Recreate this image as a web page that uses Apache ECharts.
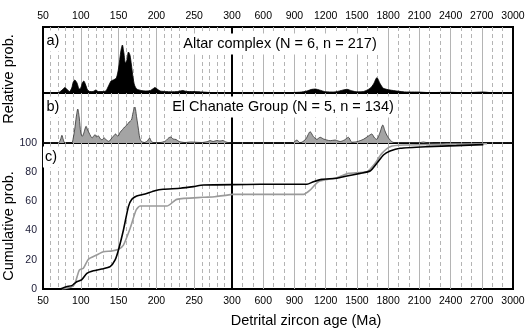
<!DOCTYPE html>
<html>
<head>
<meta charset="utf-8">
<script src="https://cdn.jsdelivr.net/npm/echarts@6/dist/echarts.min.js"></script>
<style>
  html, body { margin: 0; padding: 0; background: #fff; }
  #main { width: 529px; height: 333px; }
</style>
</head>
<body>
<div id="main"></div>
<script>
// relative probability curves (arbitrary units)
var altarAge = [50, 68, 72, 76, 79, 82, 85, 88, 90, 92, 95, 98, 100, 102, 104, 106, 109, 112, 116, 120, 123, 128, 133, 136, 140, 143, 147, 150, 153, 155, 157, 159, 161, 163, 165, 167, 169, 171, 174, 180, 186, 192, 196, 198, 201, 205, 212, 220, 228, 235, 240, 248, 255, 262, 270, 280, 300,
    600, 800, 950, 1020, 1060, 1100, 1140, 1200, 1280, 1350, 1404, 1450, 1500, 1563, 1627, 1660, 1692, 1725, 1755, 1819, 1883, 1979, 2075, 2200, 2380, 2550, 2713, 2800, 2900, 3000];
var altarProb = [0, 0, 1, 3.5, 5.5, 3.5, 1.5, 5, 11, 13, 10, 4, 5, 10, 12, 9, 3, 1.5, 1.5, 3, 1.5, 1.5, 2, 6, 12, 13, 15, 25, 42, 48, 40, 30, 33, 41, 38, 28, 16, 8, 4, 2.5, 2, 2.5, 4.5, 5.5, 4, 2, 1.5, 1.2, 1.5, 2.5, 1.5, 1.5, 1.3, 1, 0.5, 0.2, 0,
    0, 0.3, 0.8, 2, 3.5, 4, 3, 1.2, 1, 2.5, 3.7, 2.2, 1.2, 1.5, 4.7, 9, 15.3, 9, 4.7, 3, 2, 1, 1, 0.4, 0.7, 0.3, 1, 0.2, 0, 0];

var chanateAge = [50, 70, 73, 75, 77, 79, 88, 90, 92, 94, 96, 98, 100, 102, 104, 107, 109, 111, 113, 115, 117, 119, 121, 123, 126, 128, 131, 134, 136, 138, 140, 143, 146, 149, 152, 155, 158, 161, 164, 167, 169, 171.5, 174, 176, 178, 180, 184, 188, 191, 193, 196, 205, 212, 216, 219, 222, 226, 230, 238, 245, 260, 268, 271, 275, 280, 284, 288, 292, 296, 300,
    880, 924, 950, 972, 1010, 1051, 1083, 1115, 1147, 1180, 1211, 1243, 1291, 1339, 1380, 1419, 1451, 1499, 1563, 1611, 1643, 1670, 1691, 1720, 1749, 1770, 1787, 1819, 1851, 1950, 2100, 2139, 2180, 2300, 3000];
var chanateProb = [0, 0, 3, 7.7, 3, 0, 0, 5, 14, 26, 34, 25, 10, 6.7, 10, 16.7, 13, 10, 7, 5, 7, 8.3, 6, 7.3, 4, 3.3, 5, 3, 1.7, 2, 4, 6.7, 9, 6.7, 10.7, 13.3, 16, 18, 21, 23, 30, 36, 25, 15, 5, 1.7, 0.5, 2, 5, 2, 0.5, 0.5, 2, 5, 6, 4, 3.5, 1.5, 0.5, 1, 0.5, 1.5, 2.5, 1.5, 2.5, 2, 2.5, 1, 0.3, 0,
    0, 3, 0.5, 0.8, 4, 11.3, 6.3, 3.7, 5.7, 4, 3, 2.3, 3, 1.5, 3, 5.7, 0.8, 1.3, 3.7, 7, 9, 5, 3.7, 10, 18, 12, 8, 3, 0.6, 0.2, 0.3, 1, 0.2, 0, 0];

// cumulative probability (%)
var altarCumAge = [72.5, 81, 88, 94.6, 101, 108, 116.7, 127.7, 138.8, 145.4, 149.8, 156.4, 163, 167.5, 174, 185, 198, 209, 231.5, 249, 262, 300,
    572, 1020, 1083, 1164, 1308, 1404, 1531, 1627, 1692, 1755, 1819, 1915, 2171, 2456, 2715];
var altarCum = [0, 1.6, 2.3, 5, 6.2, 10.7, 12.5, 13.7, 15.3, 19.9, 26.7, 40.4, 56.4, 61.4, 63.7, 65, 67.3, 68.3, 69, 70.1, 71.2, 71.5,
    71.7, 71.7, 73.5, 75.1, 75.8, 77.4, 79.2, 80.8, 86.1, 91.8, 94.5, 96.4, 97.5, 98.2, 98.9];

var chanateCumAge = [74.7, 88, 92.4, 98, 103.4, 110, 121, 130, 141, 149.8, 156.4, 165.3, 173.2, 178.5, 214, 227, 262, 277, 300,
    572, 987, 1051, 1131, 1308, 1419, 1596, 1675, 1740, 1819, 1947, 2360, 2750];
var chanateCum = [0, 1.6, 3.9, 13, 14.2, 20.3, 23.3, 25.5, 26, 27.2, 30.1, 41.6, 54.1, 56.8, 56.8, 61.4, 62.8, 63.2, 64.8,
    64.8, 64.8, 67.8, 73.5, 76.2, 79.2, 80.3, 86.1, 92.9, 97.5, 98.6, 99.2, 99.5];

var cumTicks = [0, 20, 40, 60, 80, 100];

var FONT = "'Liberation Sans', Arial, sans-serif";
var GRID_COLOR = '#b4b4b4';

// keep only the points of one half of the broken axis
function part(ages, vals, lo, hi) {
    var out = [];
    for (var i = 0; i < ages.length; i++) {
        if (ages[i] >= lo && ages[i] <= hi) out.push([ages[i], vals[i]]);
    }
    return out;
}

function xAxis(gi, left, labelPos) {
    return {
        type: 'value',
        gridIndex: gi,
        min: left ? 50 : 300,
        max: left ? 300 : 3000,
        interval: left ? 50 : 300,
        position: labelPos || 'bottom',
        axisLine: { show: false },
        axisTick: { show: false },
        axisLabel: {
            show: !!labelPos,
            fontSize: 10.5,
            fontFamily: FONT,
            color: '#000',
            margin: labelPos == 'top' ? 5 : 7,
            showMinLabel: true,
            showMaxLabel: true,
            formatter: function(v) { return (!left && v == 300) ? '' : String(v); }
        },
        splitLine: { show: true, showMinLine: false, showMaxLine: false, lineStyle: { color: GRID_COLOR, width: 1 } },
        minorTick: { show: false, splitNumber: left ? 5 : 3 },
        minorSplitLine: { show: true, lineStyle: { color: GRID_COLOR, width: 1, type: [4, 3] } }
    };
}

function yAxis(gi, max, labels) {
    return {
        type: 'value',
        gridIndex: gi,
        min: 0,
        max: max,
        interval: labels ? 20 : max,
        axisLine: { show: false },
        axisTick: { show: false },
        splitLine: { show: false },
        axisLabel: {
            show: labels,
            fontSize: 10.5,
            fontFamily: FONT,
            color: '#20203a',
            margin: 6,
            formatter: function(v) { return cumTicks.indexOf(v) >= 0 ? String(v) : ''; }
        }
    };
}

function grid(left, top, height) {
    return {
        left: left ? 43 : 232,
        width: left ? 189 : 281,
        top: top,
        height: height,
        show: true,
        borderColor: '#000',
        borderWidth: 2,
        backgroundColor: 'transparent'
    };
}

function kde(gi, data, fill, stroke) {
    return {
        type: 'line',
        xAxisIndex: gi,
        yAxisIndex: gi,
        data: data,
        smooth: 0.25,
        showSymbol: false,
        silent: true,
        lineStyle: { color: stroke, width: 0.8 },
        areaStyle: { color: fill, opacity: 1 }
    };
}

function cum(gi, data, color) {
    return {
        type: 'line',
        xAxisIndex: gi,
        yAxisIndex: gi,
        data: data,
        smooth: 0.2,
        showSymbol: false,
        silent: true,
        lineStyle: { color: color, width: 1.6 }
    };
}

function label(text, x, y, size, rot) {
    return {
        type: 'text',
        x: x,
        y: y,
        rotation: rot || 0,
        z: 100,
        style: {
            text: text,
            font: size + 'px ' + FONT,
            fill: '#000',
            align: 'center',
            verticalAlign: 'middle',
            backgroundColor: rot ? null : '#fff',
            padding: rot ? 0 : [3, 2]
        }
    };
}

var myChart = echarts.init(document.getElementById('main'), null, { renderer: 'canvas' });

var option = {
    animation: false,
    backgroundColor: '#fff',
    grid: [
        grid(true, 27, 66), grid(false, 27, 66),
        grid(true, 93, 50), grid(false, 93, 50),
        grid(true, 143, 146), grid(false, 143, 146)
    ],
    xAxis: [
        xAxis(0, true, 'top'), xAxis(1, false, 'top'),
        xAxis(2, true), xAxis(3, false),
        xAxis(4, true, 'bottom'), xAxis(5, false, 'bottom')
    ],
    yAxis: [
        yAxis(0, 66, false), yAxis(1, 66, false),
        yAxis(2, 50, false), yAxis(3, 50, false),
        yAxis(4, 100, true), yAxis(5, 100, false)
    ],
    series: [
        kde(0, part(altarAge, altarProb, 50, 300), '#000', '#000'),
        kde(1, part(altarAge, altarProb, 300, 3000), '#000', '#000'),
        kde(2, part(chanateAge, chanateProb, 50, 300), '#a4a4a4', '#333'),
        kde(3, part(chanateAge, chanateProb, 300, 3000), '#a4a4a4', '#333'),
        cum(4, part(chanateCumAge, chanateCum, 50, 300), '#9a9a9a'),
        cum(5, part(chanateCumAge, chanateCum, 300, 3000), '#9a9a9a'),
        cum(4, part(altarCumAge, altarCum, 50, 300), '#000'),
        cum(5, part(altarCumAge, altarCum, 300, 3000), '#000')
    ],
    graphic: [
        label('a)', 53, 41, 14.5),
        label('Altar complex (N = 6, n = 217)', 280, 44, 14.5),
        label('b)', 53, 107, 14.5),
        label('El Chanate Group (N = 5, n = 134)', 283, 107, 14.5),
        label('c)', 51, 157, 14.5),
        label('Relative prob.', 9, 79, 14.5, Math.PI / 2),
        label('Cumulative prob.', 9, 226, 14.5, Math.PI / 2),
        label('Detrital zircon age (Ma)', 306, 321, 14.5)
    ]
};

myChart.setOption(option);
</script>
</body>
</html>
